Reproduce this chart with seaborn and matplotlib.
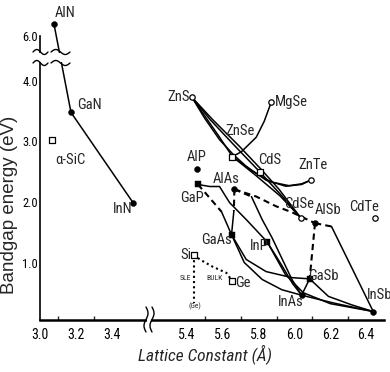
import numpy as np
import matplotlib
matplotlib.use("Agg")
import matplotlib.pyplot as plt
from matplotlib import font_manager
from matplotlib.font_manager import FontProperties
from matplotlib.patches import Rectangle
import seaborn as sns

# ── Data (lattice constant in Å, bandgap in eV) ──────────────────────────────
filled_circle_names = ["AlN", "GaN", "InN", "AlP", "AlAs", "AlSb", "InAs", "InSb"]
filled_circle_x = [3.078, 3.173, 3.519, 5.455, 5.665, 6.115, 6.04, 6.44]
filled_circle_y = [6.54, 3.48, 1.99, 2.54, 2.21, 1.65, 0.46, 0.19]

filled_square_names = ["GaP", "GaAs", "InP", "GaSb"]
filled_square_x = [5.461, 5.649, 5.848, 6.085]
filled_square_y = [2.29, 1.46, 1.34, 0.73]

open_circle_names = ["ZnS", "MgSe", "ZnTe", "CdSe", "CdTe"]
open_circle_x = [5.428, 5.87, 6.09, 6.035, 6.45]
open_circle_y = [3.73, 3.645, 2.36, 1.74, 1.74]

open_square_names = ["ZnSe", "CdS", "Si", "Ge", "α-SiC"]
open_square_x = [5.654, 5.809, 5.439, 5.654, 3.067]
open_square_y = [2.75, 2.49, 1.13, 0.69, 3.03]

# alloy curves as (x, Eg) points
nitrides = [(3.078, 6.54), (3.173, 3.48), (3.519, 1.99)]

zns_cdse = [(5.428, 3.73), (5.544, 3.36), (5.693, 2.92), (5.814, 2.54),
            (5.914, 2.21), (5.986, 1.93), (6.035, 1.74)]
zns_cds = [(5.428, 3.73), (5.53, 3.36), (5.66, 2.95), (5.809, 2.49)]
zns_znse = [(5.428, 3.73), (5.50, 3.42), (5.58, 3.08), (5.654, 2.75)]
zns_znte = [(5.428, 3.73), (5.50, 3.38), (5.582, 3.03), (5.66, 2.78), (5.731, 2.59),
            (5.842, 2.36), (5.952, 2.26), (6.041, 2.29), (6.09, 2.36)]
znse_znte = [(5.654, 2.75), (5.76, 2.52), (5.87, 2.33), (5.97, 2.27),
             (6.04, 2.30), (6.09, 2.36)]
znse_mgse = [(5.654, 2.75), (5.704, 2.83), (5.787, 3.07), (5.831, 3.33), (5.87, 3.645)]
znse_cdse = [(5.654, 2.75), (5.78, 2.45), (5.92, 2.10), (6.035, 1.74)]
cds_cdse = [(5.809, 2.49), (5.93, 2.10), (6.035, 1.74)]

gap_inp = [(5.461, 2.29), (5.527, 2.256), (5.582, 2.256), (5.638, 1.99),
           (5.731, 1.71), (5.848, 1.34)]
gap_gaas_ind = [(5.461, 2.29), (5.50, 2.16), (5.593, 1.84)]
gap_gaas_dir = [(5.593, 1.84), (5.649, 1.46)]
alas_gaas_ind = [(5.665, 2.21), (5.662, 1.85)]
alas_gaas_dir = [(5.662, 1.85), (5.649, 1.46)]
alas_alsb_ind = [(5.665, 2.21), (5.787, 2.09), (5.897, 1.93), (5.986, 1.83), (6.115, 1.65)]
alsb_insb_ind = [(6.115, 1.65), (6.207, 1.595)]
alsb_insb_dir = [(6.207, 1.595), (6.44, 0.19)]
alsb_gasb_ind = [(6.115, 1.65), (6.085, 0.73)]
alas_inas_ind = [(5.665, 2.21), (5.76, 2.09)]
alas_inas_dir = [(5.76, 2.09), (5.82, 1.71), (5.875, 1.41), (5.986, 0.72), (6.04, 0.46)]
inp_inas = [(5.848, 1.34), (5.93, 0.95), (5.99, 0.65), (6.04, 0.46)]
inp_insb = [(5.848, 1.34), (5.95, 0.80), (6.05, 0.50), (6.20, 0.32), (6.44, 0.19)]
gaas_gasb = [(5.649, 1.46), (5.731, 1.05), (5.842, 0.85), (5.986, 0.75), (6.085, 0.73)]
gaas_inas = [(5.649, 1.46), (5.72, 1.00), (5.82, 0.72), (5.93, 0.55), (6.04, 0.46)]
gasb_insb = [(6.085, 0.73), (6.19, 0.44), (6.32, 0.30), (6.44, 0.19)]
inas_insb = [(6.04, 0.46), (6.22, 0.33), (6.44, 0.19)]
gasb_inas = [(6.085, 0.73), (6.04, 0.46)]

si_ge_bulk = [(5.439, 1.13), (5.472, 1.05), (5.544, 0.93), (5.62, 0.83), (5.654, 0.69)]
si_ge_sle = [(5.439, 1.13), (5.439, 0.33)]

solid_curves = [nitrides, zns_cdse, zns_cds, zns_znse, zns_znte, znse_znte, znse_mgse,
                znse_cdse, cds_cdse, gap_inp, gap_gaas_dir, alas_gaas_dir, alsb_insb_dir,
                alas_inas_dir, inp_inas, inp_insb, gaas_gasb, gaas_inas, gasb_insb,
                inas_insb, gasb_inas]
dashed_curves = [gap_gaas_ind, alas_gaas_ind, alas_alsb_ind, alsb_insb_ind,
                 alsb_gasb_ind, alas_inas_ind]
dotted_curves = [si_ge_bulk, si_ge_sle]

# labels: text, x, Eg, horizontal alignment, size
labels = [
    ("AlN", 3.084, 7.04, "left", 10.5), ("GaN", 3.206, 3.61, "left", 10.5),
    ("α-SiC", 3.084, 2.70, "left", 10.5), ("InN", 3.463, 1.876, "center", 10.5),
    ("ZnS", 5.415, 3.74, "right", 10.5), ("MgSe", 5.892, 3.645, "left", 10.5),
    ("ZnSe", 5.698, 3.165, "center", 10.5), ("CdS", 5.864, 2.702, "center", 10.5),
    ("ZnTe", 6.102, 2.603, "center", 10.5), ("CdSe", 6.025, 1.959, "center", 10.5),
    ("AlSb", 6.185, 1.86, "center", 10.5), ("CdTe", 6.389, 1.909, "center", 10.5),
    ("AlP", 5.455, 2.736, "center", 10.5), ("GaP", 5.428, 2.074, "center", 10.5),
    ("AlAs", 5.621, 2.372, "center", 10.5), ("GaAs", 5.566, 1.38, "center", 10.5),
    ("InP", 5.803, 1.281, "center", 10.5), ("Si", 5.394, 1.132, "center", 10.5),
    ("Ge", 5.715, 0.669, "center", 10.5), ("GaSb", 6.162, 0.769, "center", 10.5),
    ("InAs", 5.98, 0.355, "center", 10.5), ("InSb", 6.477, 0.471, "center", 10.5),
    ("SLE", 5.389, 0.736, "center", 5.5), ("BULK", 5.555, 0.736, "center", 5.5),
    ("(Ge)", 5.444, 0.273, "center", 5.5),
]

x_major = [3.0, 3.2, 3.4, 5.4, 5.6, 5.8, 6.0, 6.2, 6.4]
x_minor = [3.1, 3.3, 5.5, 5.7, 5.9, 6.1, 6.3]
y_major = [1.0, 2.0, 3.0, 4.0, 6.0]


# ── Broken-axis scales ────────────────────────────────────────────────────────
def fwd_x(x):
    x = np.asarray(x, dtype=float)
    return np.where(x <= 3.58, x,
                    np.where(x >= 5.18, x - 1.58, 3.58 + (x - 3.58) * 0.0125))


def inv_x(d):
    d = np.asarray(d, dtype=float)
    return np.where(d <= 3.58, d,
                    np.where(d >= 3.60, d + 1.58, 3.58 + (d - 3.58) / 0.0125))


def fwd_y(y):
    y = np.asarray(y, dtype=float)
    return np.where(y <= 4.0, y, 4.0 + (y - 4.0) * 0.37)


def inv_y(d):
    d = np.asarray(d, dtype=float)
    return np.where(d <= 4.0, d, 4.0 + (d - 4.0) / 0.37)


def find_narrow(italic=False):
    """Cerca un font condensato tra quelli installati (fallback: DejaVu Sans)."""
    best = None
    for f in font_manager.fontManager.ttflist:
        fn = f.fname.lower()
        if not ("condensed" in fn or "narrow" in fn or f.stretch in ("condensed", 75)):
            continue
        if "bold" in fn or "light" in fn or "black" in fn or "semi" in fn or "extra" in fn:
            continue
        is_it = "italic" in fn or "oblique" in fn
        if is_it != italic:
            continue
        rank = 0 if "liberation" in fn else 1 if "roboto" in fn else 2 if "dejavu" in fn else 3
        if best is None or rank < best[0]:
            best = (rank, f.fname)
    if best is None:
        return FontProperties(family="DejaVu Sans", style="italic" if italic else "normal")
    return FontProperties(fname=best[1])


sns.set_style("white")
plt.rcParams["font.family"] = ["DejaVu Sans"]
narrow = find_narrow()
narrow_it = find_narrow(italic=True)

fig = plt.figure(figsize=(3.9, 3.72), dpi=100)
ax = fig.add_axes([40 / 390, 52 / 372, 344 / 390, 306 / 372])
ax.set_xscale("function", functions=(fwd_x, inv_x))
ax.set_yscale("function", functions=(fwd_y, inv_y))

for pts in solid_curves:
    xs, ys = zip(*pts)
    sns.lineplot(x=list(xs), y=list(ys), sort=False, estimator=None, color="k",
                 lw=1.1, ax=ax, zorder=2)
for pts in dashed_curves:
    xs, ys = zip(*pts)
    sns.lineplot(x=list(xs), y=list(ys), sort=False, estimator=None, color="k",
                 lw=1.5, linestyle=(0, (3, 2)), ax=ax, zorder=2)
for pts in dotted_curves:
    xs, ys = zip(*pts)
    sns.lineplot(x=list(xs), y=list(ys), sort=False, estimator=None, color="k",
                 lw=1.5, linestyle=(0, (1, 1.5)), ax=ax, zorder=2)

sns.scatterplot(x=filled_circle_x, y=filled_circle_y, marker="o", s=18, color="k",
                edgecolor="k", ax=ax, zorder=3, clip_on=False)
sns.scatterplot(x=filled_square_x, y=filled_square_y, marker="s", s=15, color="k",
                edgecolor="k", ax=ax, zorder=3)
sns.scatterplot(x=open_circle_x, y=open_circle_y, marker="o", s=15, color="white",
                edgecolor="k", linewidth=0.9, ax=ax, zorder=3)
sns.scatterplot(x=open_square_x, y=open_square_y, marker="s", s=15, color="white",
                edgecolor="k", linewidth=0.9, ax=ax, zorder=3)

for text, x, y, ha, size in labels:
    fp = narrow.copy()
    fp.set_size(size)
    ax.text(x, y, text, ha=ha, va="center", fontproperties=fp, clip_on=False)

ax.set_xlim(3.0, 6.5)
ax.set_ylim(0.05, 6.99)
ax.set_xticks(x_major, labels=[f"{v:.1f}" for v in x_major])
ax.set_xticks(x_minor, minor=True)
ax.set_yticks(y_major, labels=[f"{v:.1f}" for v in y_major])
ax.tick_params(axis="both", which="major", direction="in", length=4, width=1, colors="k")
ax.tick_params(axis="x", which="minor", direction="in", length=3, width=1, bottom=True)
ax.tick_params(axis="x", pad=6)
ax.tick_params(axis="y", pad=1.5)
tick_fp = narrow.copy()
tick_fp.set_size(10)
for lab in ax.get_xticklabels():
    lab.set_fontproperties(tick_fp)
ytick_fp = narrow.copy()
ytick_fp.set_size(9)
for lab in ax.get_yticklabels():
    lab.set_fontproperties(ytick_fp)

for side in ["top", "right"]:
    ax.spines[side].set_visible(False)
ax.spines["left"].set_bounds(0.05, 6.0)
ax.spines["left"].set_linewidth(1.2)
ax.spines["bottom"].set_linewidth(1.8)
ax.spines["left"].set_color("k")
ax.spines["bottom"].set_color("k")

xl_fp = narrow_it.copy()
xl_fp.set_size(12.5)
ax.set_xlabel("Lattice Constant (Å)", fontproperties=xl_fp, va="center")
ax.xaxis.set_label_coords((205 - 40) / 344, (320 - 354) / 306)
ax.set_ylabel("Bandgap energy (eV)", fontsize=13.5, family=["Liberation Sans", "DejaVu Sans"],
              va="center")
ax.yaxis.set_label_coords((10 - 40) / 344, (320 - 205) / 306)


# ── Break marks ──────────────────────────────────────────────────────────────
def px_ax(px, py):
    return (px - 40) / 344, (320 - py) / 306


def wave_h(x0, x1, y0):
    t = np.linspace(0, 1, 30)
    xa, ya = px_ax(x0 + (x1 - x0) * t, y0 - 2.5 * np.sin(2 * np.pi * t))
    ax.plot(xa, ya, color="k", lw=1.0, transform=ax.transAxes, clip_on=False, zorder=6)


def wave_v(y0, y1, x0):
    t = np.linspace(0, 1, 30)
    xa, ya = px_ax(x0 + 2.0 * np.sin(2 * np.pi * t), y0 + (y1 - y0) * t)
    ax.plot(xa, ya, color="k", lw=1.0, transform=ax.transAxes, clip_on=False, zorder=6)


for bx0, bx1 in [(33, 48), (51, 70)]:
    lx, ly = px_ax(bx0, 62)
    rx, ry = px_ax(bx1, 53)
    ax.add_patch(Rectangle((lx, ly), rx - lx, ry - ly, transform=ax.transAxes,
                           facecolor="white", edgecolor="none", clip_on=False, zorder=5))
    wave_h(bx0, bx1, 52)
    wave_h(bx0, bx1, 63)

lx, ly = px_ax(147, 330)
rx, ry = px_ax(151, 310)
ax.add_patch(Rectangle((lx, ly), rx - lx, ry - ly, transform=ax.transAxes,
                       facecolor="white", edgecolor="none", clip_on=False, zorder=5))
wave_v(307, 332, 146)
wave_v(307, 332, 152)

fig.savefig("out.png", dpi=100)
